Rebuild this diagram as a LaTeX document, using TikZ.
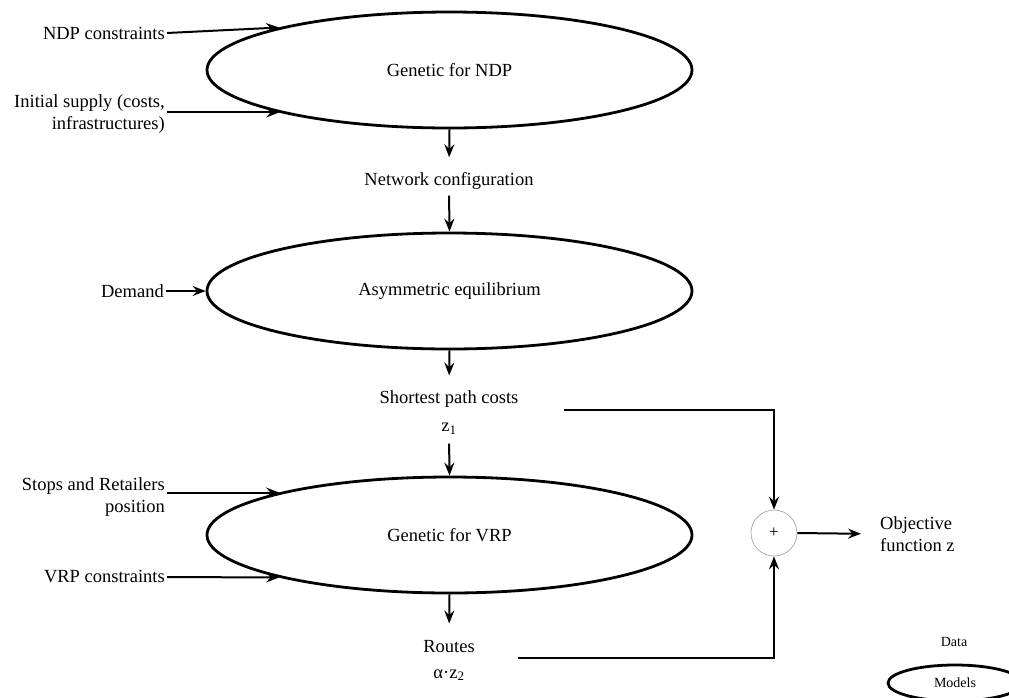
\documentclass[tikz,border=0pt]{standalone}
\usepackage{fontspec}
\setmainfont{Liberation Serif}
\usetikzlibrary{shapes.geometric,arrows.meta,calc}
\begin{document}
\begin{tikzpicture}[x=1pt,y=-1pt,
  model/.style={ellipse,draw,line width=2.8pt,minimum width=485pt,minimum height=116pt,inner sep=0pt,font=\fontsize{18.5}{22.2}\selectfont},
  txt/.style={inner sep=0pt,font=\fontsize{18.5}{22.2}\selectfont},
  intxt/.style={inner sep=2pt,font=\fontsize{18.5}{22.2}\selectfont,anchor=east},
  arr/.style={line width=2pt,-{Stealth[length=13pt,width=10pt,inset=4.5pt]}},
  sumnode/.style={circle,draw=gray!70,line width=0.7pt,minimum size=46pt,inner sep=0pt,font=\fontsize{17}{19}\selectfont},
  legtxt/.style={inner sep=0pt,font=\fontsize{14}{16}\selectfont}]
\useasboundingbox (0,0) rectangle (1009,697);

% models
\node[model] (g1) at (449.5,70) {Genetic for NDP};
\node[model] (g2) at (449.5,291) {Asymmetric equilibrium};
\node[model] (g3) at (449.5,535) {Genetic for VRP};

% inputs
\node[intxt] (ndpc) at (167,33) {NDP constraints};
\node[intxt,align=right] (isup) at (167,114) {Initial supply (costs,\\infrastructures)};
\node[intxt] (dem) at (166,291) {Demand};
\node[intxt,align=right] (stops) at (167,497) {Stops and Retailers\\position};
\node[intxt] (vrpc) at (167,577) {VRP constraints};

\draw[arr] (ndpc.east) -- (g1.166);
\draw[arr] (isup.east |- g1.194) -- (g1.194);
\draw[arr] (dem.east) -- (g2.west);
\draw[arr] (stops.east |- g3.166) -- (g3.166);
\draw[arr] (vrpc.east) -- (g3.194);

% intermediate results
\node[txt] (nc) at (449,181) {Network configuration};
\node[txt,align=center,anchor=north] (spc) at (449,390.5) {Shortest path costs\\[6pt]z\textsubscript{1}};
\node[txt,align=center,anchor=north] (rt) at (449,640.5) {Routes\\[3pt]α·z\textsubscript{2}};

\draw[arr,shorten >=15pt] (g1.south) -- (nc.north);
\draw[arr,shorten <=6pt] (nc.south) -- (g2.north);
\draw[arr,shorten >=15pt] (g2.south) -- (spc.north);
\draw[arr,shorten <=9pt] (spc.south) -- (g3.north);
\draw[arr,shorten >=17pt] (g3.south) -- (rt.north);

% summation
\node[sumnode] (sum) at (774,533) {+};
\coordinate (s1) at (564,410);
\coordinate (r1) at (518,658);
\draw[arr] (s1) -| (sum.north);
\draw[arr] (r1) -| (sum.south);
\node[txt,align=left,anchor=west] (obj) at (880,534) {Objective\\function z};
\draw[arr,shorten >=19pt] (sum.east) -- (obj.west);

% legend
\node[legtxt] (data) at (954,642) {Data};
\node[ellipse,draw,line width=2.8pt,minimum width=134pt,minimum height=36pt,inner sep=0pt,font=\fontsize{14}{16}\selectfont] (mod) at (955,683) {Models};
\end{tikzpicture}
\end{document}
